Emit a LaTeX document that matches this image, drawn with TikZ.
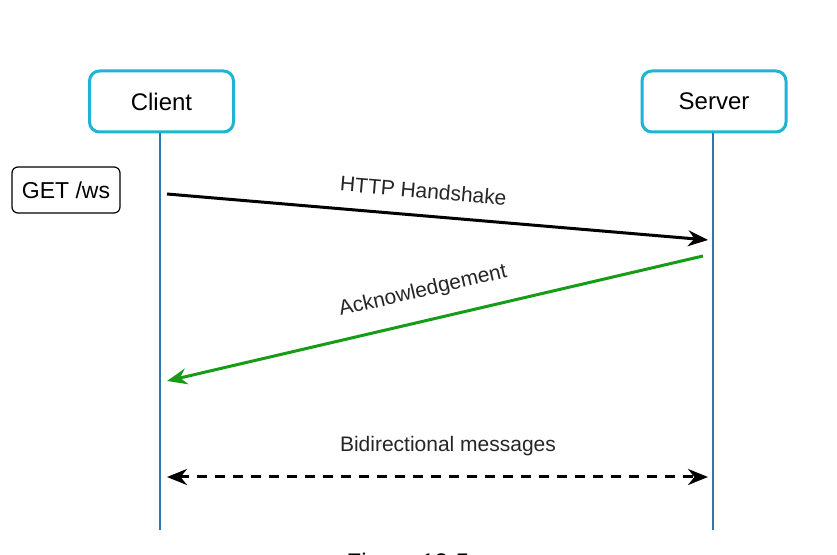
\documentclass[tikz,border=0pt]{standalone}
\usepackage{fontspec}
\setmainfont{Liberation Sans}
\usetikzlibrary{arrows.meta}
\definecolor{boxcyan}{HTML}{1EB4D2}
\definecolor{lifeblue}{HTML}{2C78B2}
\definecolor{ackgreen}{HTML}{179C17}
\tikzset{
    actor/.style={draw=boxcyan, line width=1.5pt, rounded corners=5pt, fill=white,
        minimum width=72pt, minimum height=30.5pt, font=\fontsize{12}{14}\selectfont},
    lifeline/.style={draw=lifeblue, line width=1.3pt},
    msg/.style={line width=1.5pt, -{Stealth[length=10pt,width=8pt]}},
    msglabel/.style={font=\fontsize{10.5}{12}\selectfont, inner sep=1pt, text=black!85}
}
\begin{document}
\begin{tikzpicture}[x=0.5pt, y=-0.5pt]
    \clip (0, 0) rectangle (837, 555);
    \fill[white] (0, 0) rectangle (837, 555);

    % actors
    \node[actor] (client) at (161.5, 101.5) {Client};
    \node[actor] (server) at (714, 101.5) {Server};
    \node[draw, line width=0.6pt, rounded corners=3pt, minimum width=54pt, minimum height=23pt,
        font=\fontsize{11.5}{14}\selectfont] (get) at (66, 190) {GET /ws};

    % lifelines
    \coordinate (clientEnd) at (160, 530);
    \coordinate (serverEnd) at (713, 530);
    \draw[lifeline] (client.south -| clientEnd) -- (clientEnd);
    \draw[lifeline] (server.south -| serverEnd) -- (serverEnd);

    % points on the lifelines
    \coordinate (hsFrom) at (167, 194);
    \coordinate (hsTo) at (708, 240);
    \coordinate (ackFrom) at (703, 256);
    \coordinate (ackTo) at (167, 381);
    \coordinate (biLeft) at (167, 477);
    \coordinate (biRight) at (708, 477);

    % handshake
    \draw[msg] (hsFrom) -- (hsTo)
        node[msglabel, sloped, above=7pt, pos=0.47] (hsLabel) {HTTP Handshake};

    % acknowledgement
    \draw[msg, ackgreen] (ackFrom) -- (ackTo)
        node[msglabel, sloped, above=8pt, pos=0.51] (ackLabel) {Acknowledgement};

    % bidirectional messages
    \draw[msg, dash pattern=on 5pt off 4pt, {Stealth[length=10pt,width=8pt]}-{Stealth[length=10pt,width=8pt]}]
        (biLeft) -- (biRight);
    \node[font=\fontsize{10.5}{12}\selectfont, text=black!85] (biLabel) at (448, 446) {Bidirectional messages};

    % caption, cut by the page edge
    \node[font=\fontsize{12}{14}\selectfont] (caption) at (408, 564) {Figure 12-5};
\end{tikzpicture}
\end{document}
